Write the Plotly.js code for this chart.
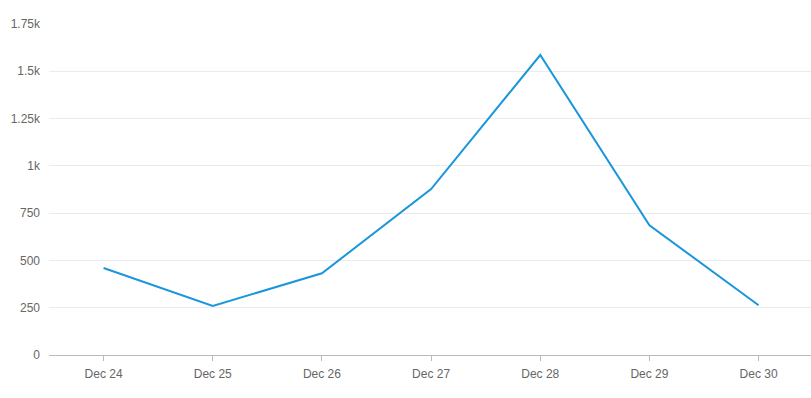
<!DOCTYPE html>
<html>
<head>
<meta charset="utf-8">
<script src="https://cdn.plot.ly/plotly-3.0.1.min.js"></script>
<style>html,body{margin:0;padding:0;background:#fff;}#chart{width:811px;height:398px;}</style>
</head>
<body>
<div id="chart"></div>
<script>
const categories = ["Dec 24", "Dec 25", "Dec 26", "Dec 27", "Dec 28", "Dec 29", "Dec 30"];
const values = [460, 259, 432, 877, 1586, 686, 263];
const yTickVals = [0, 250, 500, 750, 1000, 1250, 1500, 1750];
const yTickText = ["0", "250", "500", "750", "1k", "1.25k", "1.5k", "1.75k"];

Plotly.newPlot("chart", [{
  x: categories,
  y: values,
  type: "scatter",
  mode: "lines",
  line: {color: "#1a96dc", width: 2},
  hoverinfo: "x+y"
}], {
  width: 811, height: 398,
  margin: {l: 49, r: 0, t: 24, b: 43, pad: 0},
  paper_bgcolor: "#fff", plot_bgcolor: "#fff",
  showlegend: false,
  font: {family: "Arial, Liberation Sans, sans-serif", size: 12, color: "#666"},
  xaxis: {
    type: "category",
    range: [-0.5, 6.48],
    showgrid: false,
    showline: true, linecolor: "#bbb", linewidth: 1,
    ticks: "outside", ticklen: 5, tickcolor: "#bbb",
    ticklabelstandoff: 3,
    tickfont: {size: 12, color: "#666"},
    zeroline: false, fixedrange: true
  },
  yaxis: {
    range: [0, 1750],
    tickmode: "array", tickvals: yTickVals, ticktext: yTickText,
    showgrid: true, gridcolor: "#ebebeb", gridwidth: 1,
    zeroline: false, showline: false,
    ticks: "", ticklabelstandoff: 8,
    tickfont: {size: 12, color: "#666"},
    fixedrange: true
  }
}, {displayModeBar: false, staticPlot: true});
</script>
</body>
</html>
